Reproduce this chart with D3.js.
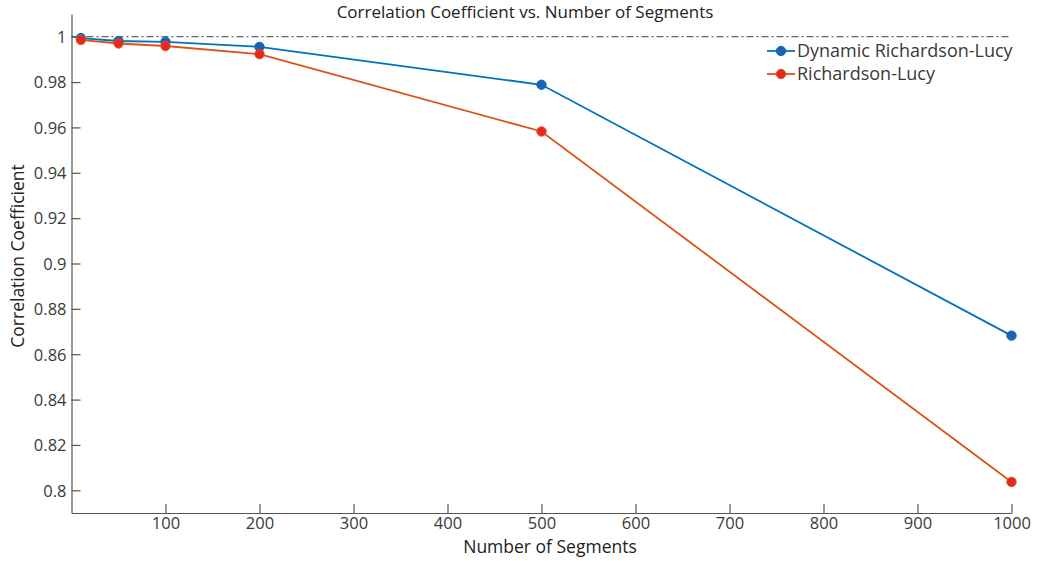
<!DOCTYPE html>
<html><head><meta charset="utf-8">
<script src="https://cdn.jsdelivr.net/npm/d3@7"></script>
<style>body{margin:0;background:#fff;} text{font-family:"Open Sans","Noto Sans",sans-serif;}</style>
</head><body>
<svg id="c" width="1039" height="561"></svg>
<script>
const segments = [10, 50, 100, 200, 500, 1000];
const dynamicRL = [0.9994, 0.9981, 0.9977, 0.9955, 0.9788, 0.8682];
const classicRL = [0.9986, 0.9970, 0.9959, 0.9923, 0.9582, 0.8037];
const seriesNames = ["Dynamic Richardson-Lucy", "Richardson-Lucy"];
const xTicks = [100, 200, 300, 400, 500, 600, 700, 800, 900, 1000];
const yTicks = [0.8, 0.82, 0.84, 0.86, 0.88, 0.9, 0.92, 0.94, 0.96, 0.98, 1];
const title = "Correlation Coefficient vs. Number of Segments";
const xLabel = "Number of Segments";
const yLabel = "Correlation Coefficient";

const svg = d3.select("#c");
const L = 71.5, R = 1011.5, T = 14, B = 513;
const x = d3.scaleLinear().domain([0, 1000]).range([L, R]);
const y = d3.scaleLinear().domain([0.79, 1.01]).range([B, T]);
const axisColor = "#555", textColor = "#3a3a3a";

// reference line at 1
svg.append("line").attr("x1", L).attr("x2", R).attr("y1", y(1)).attr("y2", y(1))
  .attr("stroke", "#666").attr("stroke-width", 1.2).attr("stroke-dasharray", "7,3,2,3");

const xAxis = svg.append("g").attr("transform", `translate(0,${B})`)
  .call(d3.axisBottom(x).tickValues(xTicks).tickSizeInner(-9).tickSizeOuter(0).tickPadding(4).tickFormat(d3.format("d")));
const yAxis = svg.append("g").attr("transform", `translate(${L},0)`)
  .call(d3.axisLeft(y).tickValues(yTicks).tickSizeInner(-9).tickSizeOuter(0).tickPadding(5).tickFormat(d => d === 1 ? "1" : d3.format("")(d)));
[xAxis, yAxis].forEach(a => {
  a.select(".domain").attr("stroke", axisColor).attr("stroke-width", 1.2);
  a.selectAll(".tick line").attr("stroke", axisColor).attr("stroke-width", 1.2);
  a.selectAll(".tick text").attr("fill", textColor).attr("font-size", 16.5)
    .attr("font-family", '"Open Sans","Noto Sans",sans-serif');
});
yAxis.selectAll(".tick text").attr("dy", "0.35em");

const series = [
  {name: seriesNames[0], vals: dynamicRL, line: "#0072BD", fill: "#2060B0"},
  {name: seriesNames[1], vals: classicRL, line: "#D95319", fill: "#E8281E"}
];
const lineGen = d3.line().x((d, i) => x(segments[i])).y(d => y(d));
series.forEach(s => {
  svg.append("path").attr("d", lineGen(s.vals)).attr("fill", "none")
    .attr("stroke", s.line).attr("stroke-width", 1.8);
});
series.forEach(s => {
  svg.selectAll(null).data(s.vals).enter().append("circle")
    .attr("cx", (d, i) => x(segments[i])).attr("cy", d => y(d)).attr("r", 4.7)
    .attr("fill", s.fill).attr("stroke", s.line).attr("stroke-width", 1);
});

// legend
series.forEach((s, i) => {
  const ly = 51 + i * 23;
  svg.append("line").attr("x1", 767).attr("x2", 795).attr("y1", ly).attr("y2", ly)
    .attr("stroke", s.line).attr("stroke-width", 1.8);
  svg.append("circle").attr("cx", 781).attr("cy", ly).attr("r", 4.7)
    .attr("fill", s.fill).attr("stroke", s.line);
  svg.append("text").attr("x", 797).attr("y", ly).attr("dy", "0.35em")
    .attr("font-size", 18).attr("fill", textColor).text(s.name);
});

svg.append("text").attr("x", 525).attr("y", 18).attr("text-anchor", "middle")
  .attr("font-size", 17).attr("fill", "#222").text(title);
svg.append("text").attr("x", 550).attr("y", 553).attr("text-anchor", "middle")
  .attr("font-size", 17.5).attr("fill", "#222").text(xLabel);
svg.append("text").attr("transform", "translate(24,256) rotate(-90)").attr("text-anchor", "middle")
  .attr("font-size", 17.5).attr("fill", "#222").text(yLabel);
</script>
</body></html>
